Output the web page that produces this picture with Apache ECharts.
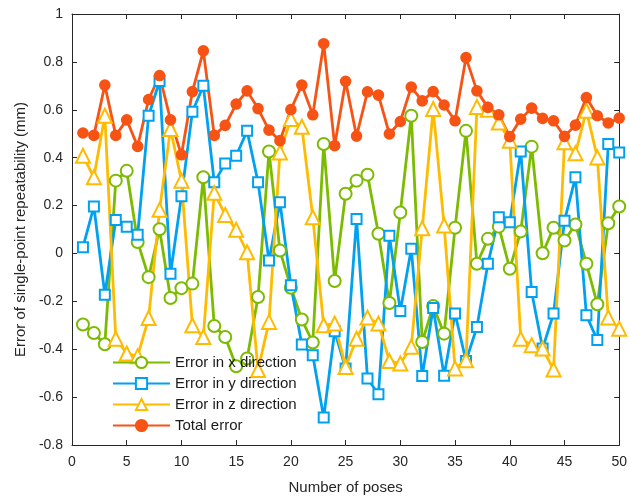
<!DOCTYPE html>
<html>
<head>
<meta charset="utf-8">
<script src="https://cdn.jsdelivr.net/npm/echarts@6/dist/echarts.min.js"></script>
<style>
  html, body { margin: 0; padding: 0; background: #fff; }
  #chart { width: 630px; height: 501px; }
</style>
</head>
<body>
<div id="chart"></div>
<script>
// pose index 1..50
const poses = [
  1, 2, 3, 4, 5, 6, 7, 8, 9, 10, 11, 12, 13, 14, 15, 16, 17, 18, 19, 20,
  21, 22, 23, 24, 25, 26, 27, 28, 29, 30, 31, 32, 33, 34, 35, 36, 37, 38, 39, 40,
  41, 42, 43, 44, 45, 46, 47, 48, 49, 50
]

// error values (mm)
const errX = [
  -0.297, -0.332, -0.379, 0.304, 0.345, 0.048, -0.099, 0.101, -0.186, -0.145,
  -0.126, 0.318, -0.303, -0.349, -0.471, -0.439, -0.182, 0.426, 0.012, -0.143,
  -0.276, -0.372, 0.457, -0.115, 0.249, 0.304, 0.329, 0.082, -0.207, 0.171,
  0.575, -0.370, -0.219, -0.335, 0.107, 0.512, -0.043, 0.061, 0.112, -0.064,
  0.092, 0.446, 0.001, 0.107, 0.054, 0.121, -0.043, -0.212, 0.126, 0.196
]
const errY = [
  0.026, 0.196, -0.172, 0.140, 0.112, 0.078, 0.575, 0.720, -0.085, 0.239,
  0.592, 0.700, 0.297, 0.376, 0.408, 0.512, 0.297, -0.029, 0.214, -0.133,
  -0.380, -0.425, -0.685, -0.325, -0.480, 0.144, -0.522, -0.588, 0.074, -0.240,
  0.020, -0.512, -0.228, -0.511, -0.251, -0.449, -0.307, -0.043, 0.151, 0.130,
  0.426, -0.161, -0.397, -0.251, 0.137, 0.318, -0.258, -0.362, 0.457, 0.422
]
const errZ = [
  0.408, 0.318, 0.575, -0.356, -0.418, -0.429, -0.270, 0.182, 0.520, 0.304,
  -0.300, -0.349, 0.253, 0.161, 0.099, 0.005, -0.487, -0.286, 0.422, 0.561,
  0.529, 0.151, -0.300, -0.293, -0.474, -0.356, -0.268, -0.293, -0.449, -0.460,
  -0.390, 0.105, 0.603, 0.117, -0.480, -0.446, 0.612, 0.600, 0.547, 0.471,
  -0.356, -0.383, -0.397, -0.485, 0.464, 0.418, 0.596, 0.401, -0.268, -0.314
]
const errTotal = [
  0.503, 0.493, 0.703, 0.493, 0.558, 0.447, 0.643, 0.743, 0.558, 0.412,
  0.676, 0.846, 0.493, 0.535, 0.624, 0.679, 0.605, 0.515, 0.471, 0.601,
  0.703, 0.579, 0.876, 0.450, 0.719, 0.490, 0.675, 0.661, 0.499, 0.551,
  0.695, 0.637, 0.676, 0.620, 0.554, 0.818, 0.679, 0.610, 0.579, 0.488,
  0.561, 0.607, 0.564, 0.554, 0.489, 0.536, 0.651, 0.575, 0.545, 0.565
]

const seriesNames = ['Error in x direction', 'Error in y direction', 'Error in z direction', 'Total error']

const FONT = "'Liberation Sans', Arial, sans-serif"
const AXIS_COLOR = '#262626'

const chart = echarts.init(document.getElementById('chart'), null, { renderer: 'canvas' })

function toPairs(values) {
  return poses.map((p, i) => [p, values[i]])
}

// 公共线条样式
function lineSeries(name, values, color, symbol, symbolSize) {
  return {
    name: name,
    type: 'line',
    data: toPairs(values),
    symbol: symbol,
    symbolSize: symbolSize,
    showAllSymbol: true,
    lineStyle: { color: color, width: 2.8 },
    itemStyle: { color: color, borderColor: color, borderWidth: 2.6 },
    emphasis: { disabled: true },
    animation: false
  }
}

const axisBase = {
  type: 'value',
  min: 0,
  max: 50,
  interval: 5,
  axisLine: { show: true, onZero: false, lineStyle: { color: AXIS_COLOR, width: 1 } },
  axisTick: { show: true, inside: true, length: 5, lineStyle: { color: AXIS_COLOR } },
  splitLine: { show: false }
}

const option = {
  backgroundColor: '#fff',
  animation: false,
  grid: { left: 72, right: 10, top: 14, bottom: 56, containLabel: false },
  legend: {
    data: seriesNames,
    orient: 'vertical',
    left: 107,
    top: 350,
    itemWidth: 57,
    itemHeight: 14,
    itemGap: 6,
    textStyle: { fontFamily: FONT, fontSize: 15, color: '#1a1a1a' },
    backgroundColor: 'transparent'
  },
  xAxis: [
    Object.assign({}, axisBase, {
      position: 'bottom',
      name: 'Number of poses',
      nameLocation: 'middle',
      nameGap: 35,
      nameTextStyle: { fontFamily: FONT, fontSize: 15, color: AXIS_COLOR },
      axisLabel: { fontFamily: FONT, fontSize: 14, color: AXIS_COLOR, margin: 10 }
    }),
    Object.assign({}, axisBase, {
      position: 'top',
      axisLabel: { show: false }
    })
  ],
  yAxis: [
    {
      type: 'value',
      min: -0.8,
      max: 1,
      interval: 0.2,
      position: 'left',
      name: 'Error of single-point repeatability (mm)',
      nameLocation: 'middle',
      nameGap: 44,
      nameTextStyle: { fontFamily: FONT, fontSize: 15, color: AXIS_COLOR },
      axisLine: { show: true, onZero: false, lineStyle: { color: AXIS_COLOR, width: 1 } },
      axisTick: { show: true, inside: true, length: 5, lineStyle: { color: AXIS_COLOR } },
      axisLabel: {
        fontFamily: FONT, fontSize: 14, color: AXIS_COLOR, margin: 9,
        formatter: v => String(+v.toFixed(1))
      },
      splitLine: { show: false }
    },
    {
      type: 'value',
      min: -0.8,
      max: 1,
      interval: 0.2,
      position: 'right',
      axisLine: { show: true, onZero: false, lineStyle: { color: AXIS_COLOR, width: 1 } },
      axisTick: { show: true, inside: true, length: 5, lineStyle: { color: AXIS_COLOR } },
      axisLabel: { show: false },
      splitLine: { show: false }
    }
  ],
  series: [
    lineSeries(seriesNames[0], errX, '#7CBB00', 'emptyCircle', 12),
    lineSeries(seriesNames[1], errY, '#00A1F1', 'emptyRect', 10),
    lineSeries(seriesNames[2], errZ, '#FFBB00', 'emptyTriangle', 14),
    lineSeries(seriesNames[3], errTotal, '#F65314', 'circle', 9)
  ]
}

chart.setOption(option)
</script>
</body>
</html>
